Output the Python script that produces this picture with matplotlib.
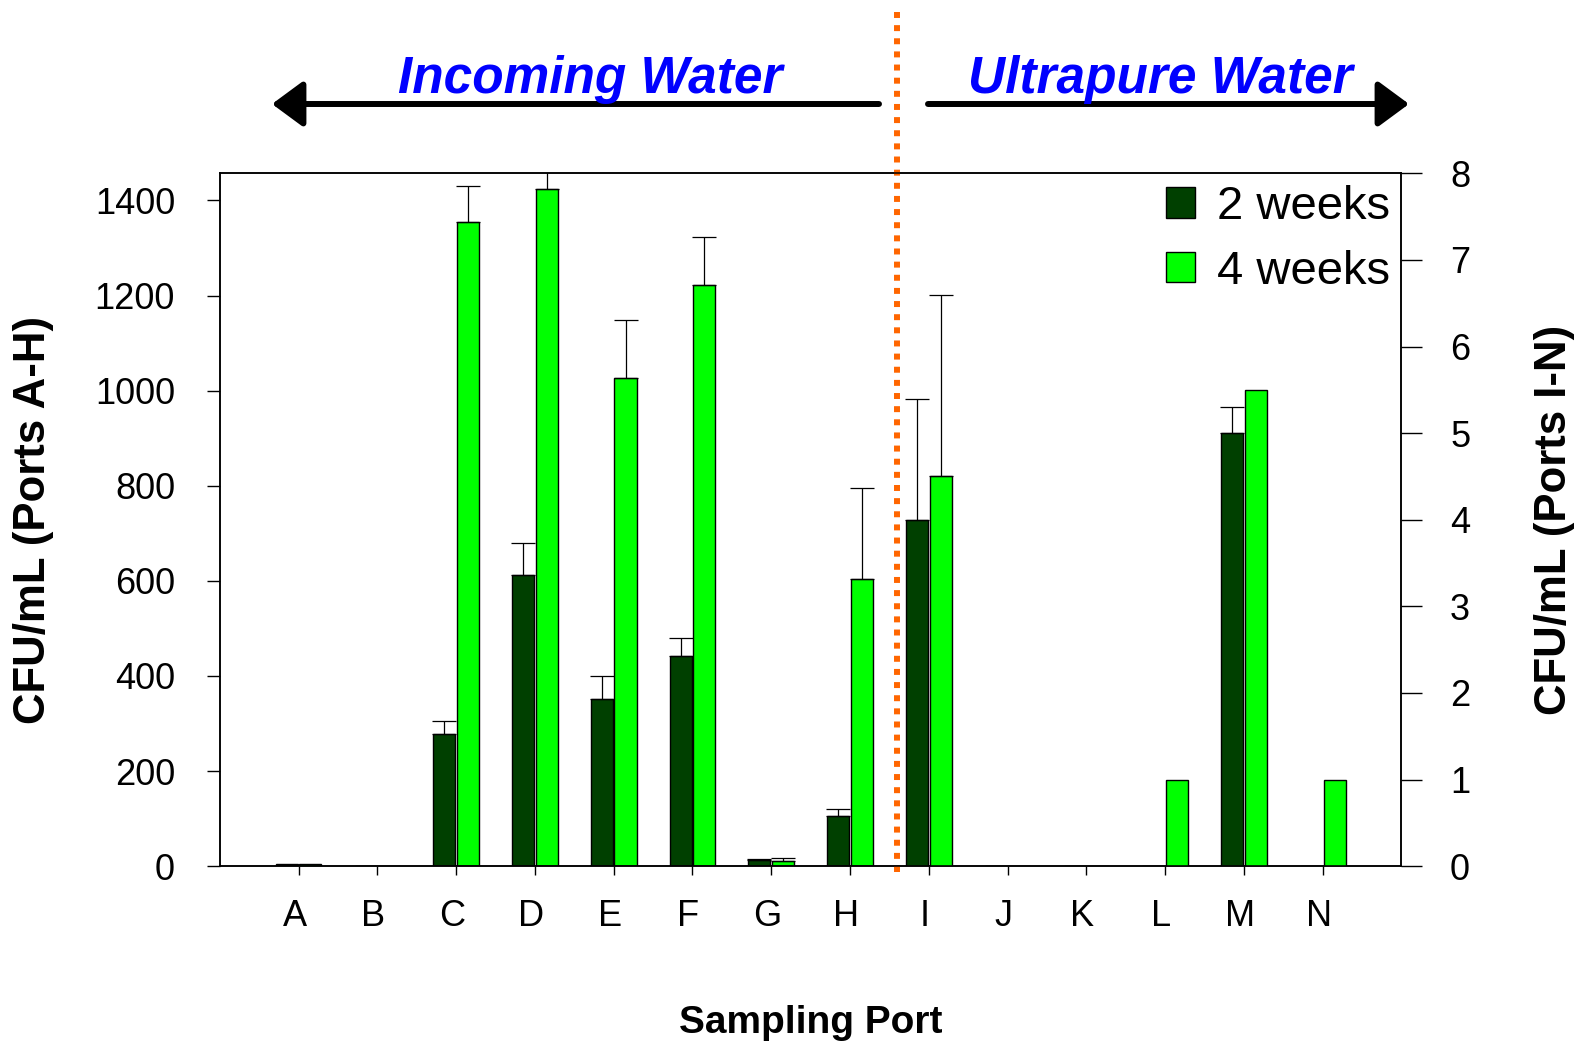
import numpy as np
import matplotlib
matplotlib.use("Agg")
import matplotlib.pyplot as plt
from matplotlib.patches import FancyArrowPatch
from matplotlib.transforms import ScaledTranslation

plt.rcParams['font.family'] = ['Liberation Sans', 'DejaVu Sans']

# datos
puertos = ['A', 'B', 'C', 'D', 'E', 'F', 'G', 'H', 'I', 'J', 'K', 'L', 'M', 'N']

# puertos A-H (eje izquierdo)
izq_2sem = [4, 1, 278, 612, 352, 441, 12, 105]
izq_2sem_err = [0, 0, 27, 68, 47, 38, 3, 15]
izq_4sem = [4, 1, 1354, 1425, 1027, 1222, 10, 603]
izq_4sem_err = [0, 0, 77, 100, 121, 102, 6, 192]

# puertos I-N (eje derecho)
der_2sem = [4.0, 0, 0, 0, 5.0, 0]
der_2sem_err = [1.39, 0, 0, 0, 0.30, 0]
der_4sem = [4.5, 0, 0, 1.0, 5.5, 1.0]
der_4sem_err = [2.1, 0, 0, 0, 0, 0]

ticks_izq = [0, 200, 400, 600, 800, 1000, 1200, 1400]
ticks_der = [0, 1, 2, 3, 4, 5, 6, 7, 8]

verde_osc = '#004000'
verde_cla = '#00ff00'
ancho = 0.28
desp = 0.15

fig = plt.figure(figsize=(15.81, 10.42), dpi=100)
ax = fig.add_axes([0.13902, 0.16881, 0.74744, 0.66478])
ax2 = ax.twinx()

x = np.arange(len(puertos))
x_izq = x[:8]
x_der = x[8:]


def barras(eje, xs, v2, e2, v4, e4):
    b2 = eje.bar(xs - desp, v2, ancho, color=verde_osc, edgecolor='black', linewidth=1)
    b4 = eje.bar(xs + desp, v4, ancho, color=verde_cla, edgecolor='black', linewidth=1)
    for xx, vv, ee in [(xs - desp, v2, e2), (xs + desp, v4, e4)]:
        vv = np.array(vv, dtype=float)
        ee = np.array(ee, dtype=float)
        m = ee > 0
        eje.errorbar(xx[m], vv[m], yerr=[np.zeros(m.sum()), ee[m]], fmt='none',
                     ecolor='black', elinewidth=0.9, capsize=8.6, capthick=0.9)
    return b2, b4


b2, b4 = barras(ax, x_izq, izq_2sem, izq_2sem_err, izq_4sem, izq_4sem_err)
barras(ax2, x_der, der_2sem, der_2sem_err, der_4sem, der_4sem_err)

ax.set_xlim(-1, 14)
ax.set_ylim(0, 1457)
ax2.set_ylim(0, 8)

ax.set_xticks(x)
ax.set_xticklabels(puertos)
ax.set_yticks(ticks_izq)
ax2.set_yticks(ticks_der)

ax.tick_params(axis='x', direction='out', length=6.5, width=1, labelsize=26, pad=17)
ax.tick_params(axis='y', direction='out', length=9.2, width=1, labelsize=26, pad=23)
ax2.tick_params(axis='y', direction='out', length=15, width=1, labelsize=26, pad=20)

# las letras del eje x estan un poco corridas a la izquierda
corrimiento = ScaledTranslation(-4 / 100, 0, fig.dpi_scale_trans)
for lbl in ax.get_xticklabels():
    lbl.set_transform(lbl.get_transform() + corrimiento)

for e in (ax, ax2):
    for s in e.spines.values():
        s.set_linewidth(1.1)

ax.set_ylabel('CFU/mL (Ports A-H)', fontsize=31.5, fontweight='bold', labelpad=29)
ax2.set_ylabel('CFU/mL (Ports I-N)', fontsize=31.5, fontweight='bold', labelpad=46, rotation=90)
ax.set_xlabel('Sampling Port', fontsize=28, fontweight='bold', labelpad=51)

# linea divisoria
ax.axvline(7.59, ymin=-0.009, ymax=1.237, color='#ff6600', linewidth=4.3,
           linestyle=(0, (1.0, 1.2)), clip_on=False, zorder=5)

ax2.legend([b2, b4], ['2 weeks', '4 weeks'], loc='upper right', frameon=False,
           fontsize=34, handlelength=0.61, handleheight=0.61, handletextpad=0.46,
           labelspacing=0.43, borderaxespad=0.0, borderpad=0.25)

# textos y flechas de arriba
fig.text(590 / 1581, 1 - 93 / 1042, 'Incoming Water', color='#0000ff', fontsize=37,
         fontweight='bold', fontstyle='italic', ha='center', va='baseline')
fig.text(1160 / 1581, 1 - 93 / 1042, 'Ultrapure Water', color='#0000ff', fontsize=37,
         fontweight='bold', fontstyle='italic', ha='center', va='baseline')

y_fl = 1 - 104 / 1042
for x0, x1 in [(879, 272), (928, 1409)]:
    fl = FancyArrowPatch((x0 / 1581, y_fl), (x1 / 1581, y_fl), transform=fig.transFigure,
                         arrowstyle='-|>,head_length=19,head_width=14', mutation_scale=1,
                         color='black', linewidth=4.3, shrinkA=0, shrinkB=0)
    fig.add_artist(fl)

plt.savefig('out.png', dpi=100)
